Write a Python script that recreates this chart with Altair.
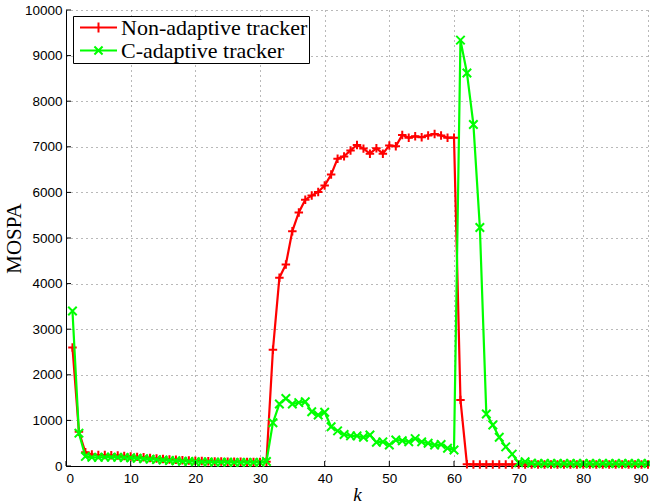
import altair as alt
import pandas as pd

k = list(range(1, 91))

non_adaptive = [
    2600, 750, 300, 250, 240, 240, 235, 230, 220, 210,
    200, 190, 175, 165, 155, 145, 135, 125, 120, 115,
    110, 105, 100, 100, 95, 95, 95, 90, 90, 90,
    95, 2550, 4130, 4420, 5150, 5560, 5840, 5930, 6010, 6150,
    6390, 6740, 6790, 6920, 7040, 6960, 6850, 6970, 6850, 7030,
    7010, 7260, 7200, 7230, 7210, 7250, 7280, 7250, 7200, 7200,
    1450, 40, 35, 35, 35, 35, 35, 35, 35, 35,
    35, 35, 35, 35, 35, 35, 35, 35, 35, 35,
    35, 35, 35, 35, 35, 35, 35, 35, 35, 35,
]

c_adaptive = [
    3400, 720, 210, 190, 190, 195, 195, 190, 185, 180,
    170, 160, 150, 140, 130, 120, 115, 105, 100, 95,
    90, 90, 85, 85, 85, 80, 80, 80, 80, 80,
    100, 950, 1360, 1480, 1360, 1390, 1410, 1190, 1120, 1180,
    860, 770, 690, 660, 660, 630, 680, 520, 530, 460,
    570, 555, 530, 600, 530, 500, 460, 470, 390, 350,
    9340, 8620, 7490, 5230, 1140, 900, 630, 420, 260, 70,
    95, 60, 55, 55, 55, 55, 55, 55, 55, 55,
    55, 55, 55, 55, 55, 55, 55, 55, 55, 55,
]

series_names = ["Non-adaptive tracker", "C-adaptive tracker"]
series_colors = ["#ff0000", "#00ff00"]
x_ticks = list(range(0, 91, 10))
y_ticks = list(range(0, 10001, 1000))

df = pd.concat([
    pd.DataFrame({"k": k, "MOSPA": non_adaptive, "series": series_names[0]}),
    pd.DataFrame({"k": k, "MOSPA": c_adaptive, "series": series_names[1]}),
])
xt = pd.DataFrame({"k": x_ticks})
yt = pd.DataFrame({"MOSPA": y_ticks})

marker_paths = ["M-1,0L1,0M0,-1L0,1", "M-1,-1L1,1M-1,1L1,-1"]
legend_paths = ["M-1,0L1,0M0,-0.27L0,0.27",
                "M-1,0L1,0M-0.22,-0.22L0.22,0.22M-0.22,0.22L0.22,-0.22"]

x_scale = alt.Scale(domain=[0, 90], nice=False, zero=False)
y_scale = alt.Scale(domain=[0, 10000], nice=False)

x_enc = alt.X("k:Q", scale=x_scale, axis=alt.Axis(
    values=x_ticks, title="k", titleFontStyle="italic", titleFont="Liberation Serif",
    titleFontSize=19, titleFontWeight="normal", titleColor="black", titlePadding=1,
    labelFont="Liberation Sans", labelFontSize=13.5, labelColor="black", labelPadding=5,
    ticks=False, domainColor="black", domainWidth=1, format="d",
    grid=True, gridColor="#000000", gridOpacity=0.55, gridDash=[1, 4], gridWidth=1,
))
y_enc = alt.Y("MOSPA:Q", scale=y_scale, axis=alt.Axis(
    values=y_ticks, title="MOSPA", titleFont="Liberation Serif", titleFontSize=21,
    titleFontWeight="normal", titleColor="black", titlePadding=0,
    labelFont="Liberation Sans", labelFontSize=13.5, labelColor="black", labelPadding=4,
    ticks=False, domainColor="black", domainWidth=1, format="d",
    grid=True, gridColor="#000000", gridOpacity=0.55, gridDash=[1, 4], gridWidth=1,
))

layers = []
for name, col, path in zip(series_names, series_colors, marker_paths):
    sub = alt.Chart(df).transform_filter(alt.datum.series == name)
    layers.append(sub.mark_line(strokeWidth=2.2, color=col).encode(
        x=x_enc, y=y_enc, order=alt.Order("k:Q")))
    layers.append(sub.mark_point(filled=False, strokeWidth=2, size=72, opacity=1,
                                 shape=path, color=col).encode(x=x_enc, y=y_enc))

legend = alt.Legend(
    title=None, orient="none", legendX=7, legendY=6, padding=1,
    symbolSize=1369, clipHeight=21, rowPadding=0, symbolOffset=5, labelOffset=3,
    labelFont="Liberation Serif", labelFontSize=22, labelColor="black",
    labelExpr="datum.label + '\u00a0\u00a0\u00a0'", labelLimit=400,
    strokeColor="black", fillColor="white", symbolStrokeWidth=2,
    symbolFillColor="transparent",
)
legend_layer = alt.Chart(df).transform_filter("datum.k < 0").mark_point(
    filled=False, strokeWidth=2, opacity=1).encode(
    x=x_enc, y=y_enc,
    color=alt.Color("series:N", scale=alt.Scale(domain=series_names, range=series_colors),
                    legend=legend),
    shape=alt.Shape("series:N", scale=alt.Scale(domain=series_names, range=legend_paths),
                    legend=legend),
)

xticks = alt.Chart(xt).mark_rule(color="black", strokeWidth=1).encode(
    x=alt.X("k:Q", scale=x_scale), y=alt.value(456), y2=alt.value(451))
yticks = alt.Chart(yt).mark_rule(color="black", strokeWidth=1).encode(
    y=alt.Y("MOSPA:Q", scale=y_scale), x=alt.value(0), x2=alt.value(5))

chart = alt.layer(*layers, xticks, yticks, legend_layer).properties(
    width=582, height=456,
    autosize=alt.AutoSizeParams(type="none"),
    padding={"left": 66, "top": 10, "right": 2, "bottom": 38},
    background="white",
).configure_view(stroke=None)

chart.save("out.html", embed_options={"renderer": "svg", "actions": False})
